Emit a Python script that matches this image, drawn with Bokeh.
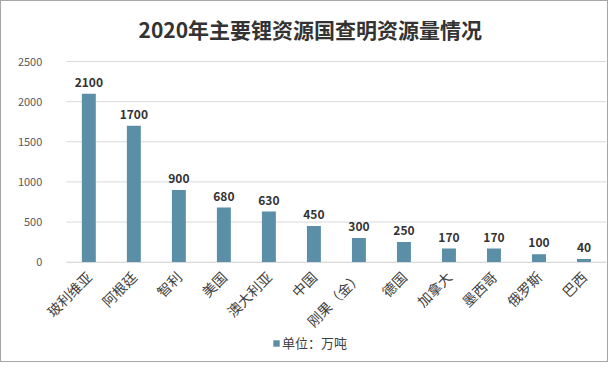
import math
from bokeh.plotting import figure
from bokeh.models import ColumnDataSource, LabelSet, Legend, LegendItem, Range1d, FixedTicker
from bokeh.core.properties import value
from bokeh.embed import file_html
from bokeh.resources import INLINE

countries = ["玻利维亚", "阿根廷", "智利", "美国", "澳大利亚", "中国", "刚果（金）", "德国", "加拿大", "墨西哥", "俄罗斯", "巴西"]
reserves = [2100, 1700, 900, 680, 630, 450, 300, 250, 170, 170, 100, 40]
y_ticks = [0, 500, 1000, 1500, 2000, 2500]
title_text = "2020年主要锂资源国查明资源量情况"
legend_text = "单位：万吨"

BAR = "#5b8fa7"
FONT = "Noto Sans CJK SC"
GRID = "#d9d9d9"

n = len(countries)
pos = [i + 0.5 for i in range(n)]  # centre of each category band
src = ColumnDataSource(dict(x=pos, top=reserves, lbl=[str(v) for v in reserves]))

# frame extends left of the first band, above the top tick and below zero, so that the
# rotated labels, the y tick labels and the legend all live inside it
p = figure(x_range=Range1d(-1.44, n), y_range=Range1d(-1200, 2600), width=608, height=362,
           output_backend="svg", toolbar_location=None,
           min_border_left=0, min_border_right=3, min_border_top=50, min_border_bottom=5)
p.styles = {"border": "1px solid #a6a6a6"}

p.title.text = title_text
p.title.align = "left"
p.title.text_font = FONT
p.title.text_font_size = "21px"
p.title.text_font_style = "bold"
p.title.text_color = "#333333"
p.title.offset = 137
p.title.standoff = 20

# horizontal gridlines across the category bands
p.segment(x0=0, x1=n, y0=y_ticks, y1=y_ticks, line_color=GRID, line_width=1, level="underlay")

r = p.vbar(x="x", top="top", width=0.31, source=src, fill_color=BAR, line_color=None)

labels = LabelSet(x="x", y="top", text="lbl", source=src, text_align="center", y_offset=7,
                  text_font=value(FONT), text_font_size="12px", text_font_style="bold",
                  text_color="#333333")
p.add_layout(labels)

p.outline_line_color = None
p.xgrid.grid_line_color = None
p.ygrid.grid_line_color = None

p.yaxis.fixed_location = 0
p.yaxis.ticker = FixedTicker(ticks=y_ticks)
p.yaxis.axis_line_color = None
p.yaxis.major_tick_line_color = None
p.yaxis.minor_tick_line_color = None
p.yaxis.major_label_text_font = FONT
p.yaxis.major_label_text_font_size = "11px"
p.yaxis.major_label_text_color = "#595959"
p.yaxis.major_label_standoff = 18

p.xaxis.fixed_location = 0
p.xaxis.bounds = (0, n)
p.xaxis.ticker = FixedTicker(ticks=pos)
p.xaxis.major_label_overrides = {x: c for x, c in zip(pos, countries)}
p.xaxis.axis_line_color = GRID
p.xaxis.major_tick_line_color = None
p.xaxis.minor_tick_line_color = None
p.xaxis.major_label_orientation = math.pi / 4
p.xaxis.major_label_text_font = FONT
p.xaxis.major_label_text_font_size = "14px"
p.xaxis.major_label_text_color = "#404040"
p.xaxis.major_label_standoff = 6

legend = Legend(items=[LegendItem(label=legend_text, renderers=[r])],
                location=(271, 6), orientation="horizontal",
                label_text_font=FONT, label_text_font_size="13px", label_text_color="#404040",
                glyph_width=8, glyph_height=8, label_standoff=2, padding=0, margin=0,
                label_height=16, background_fill_alpha=0, border_line_color=None)
p.add_layout(legend)

open("out.html", "w").write(file_html(p, INLINE))
